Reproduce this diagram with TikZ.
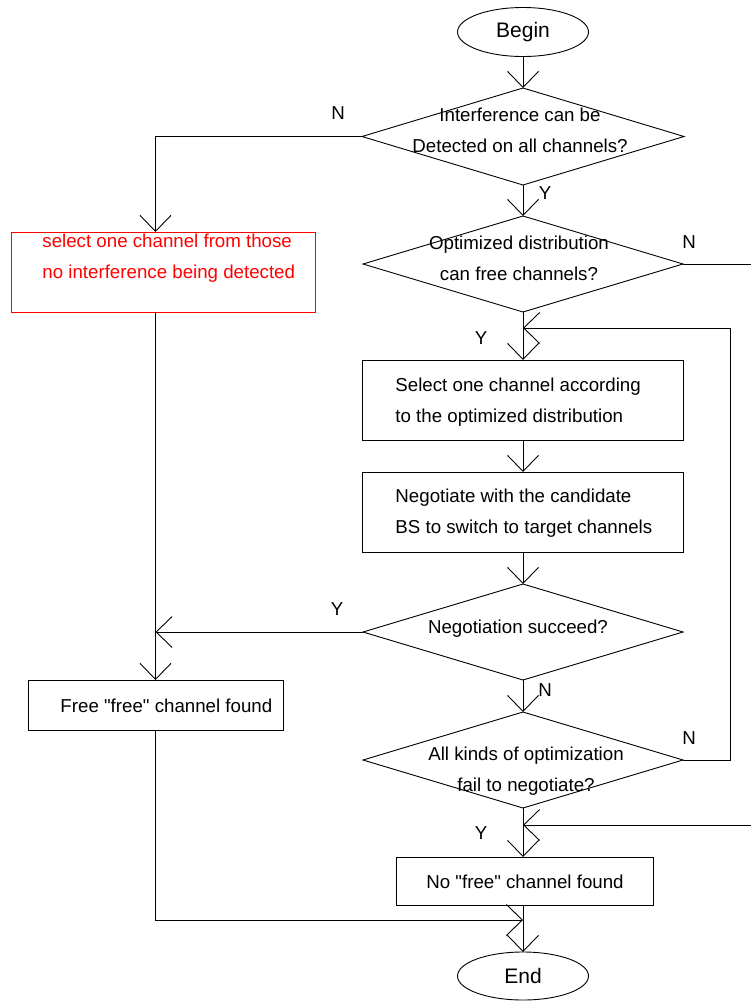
\documentclass[tikz,border=0pt]{standalone}
\usepackage{fontspec}
\setmainfont{Liberation Sans}[Ligatures=TeXOff]
\usetikzlibrary{shapes.geometric,arrows.meta}
\begin{document}
\begin{tikzpicture}[x=1bp,y=-1bp,line width=0.9bp,
  arr/.style={-{Straight Barb[length=16bp,width=31bp]}},
  txt/.style={font=\fontsize{18.7bp}{31bp}\selectfont,inner sep=0pt},
  lbl/.style={font=\fontsize{18.7bp}{22bp}\selectfont,inner sep=0pt},
  decision/.style={diamond,draw,inner sep=0pt,outer sep=0pt,minimum width=320bp,minimum height=96bp},
  proc/.style={rectangle,draw,inner sep=0pt,outer sep=0pt},
  term/.style={ellipse,draw,inner sep=0pt,outer sep=0pt,minimum width=131bp,minimum height=49bp,font=\fontsize{21bp}{25bp}\selectfont}
]
\useasboundingbox (0,0) rectangle (751,1001);
% nodes
\node[term] (begin) at (523,32) {Begin};
\node[decision,minimum width=322bp,minimum height=97bp] (d1) at (523,136.5) {};
\node[txt,align=center] (d1t) at (520,130) {Interference can be\\Detected on all channels?};
\node[decision] (d2) at (523,264) {};
\node[txt,align=center] (d2t) at (519,258) {Optimized distribution\\can free channels?};
\node[proc,draw=red,minimum width=304bp,minimum height=80bp] (sel) at (163,272) {};
\node[txt,align=left,anchor=west,text=red] (selt) at (42,258.5) {select one channel from those\\no interference being detected};
\node[proc,minimum width=321bp,minimum height=80bp] (b1) at (523,400) {};
\node[txt,align=left,anchor=west] (b1t) at (395,402) {Select one channel according\\to the optimized distribution};
\node[proc,minimum width=321bp,minimum height=80bp] (b2) at (523,512) {};
\node[txt,align=left,anchor=west] (b2t) at (395,513) {Negotiate with the candidate\\BS to switch to target channels};
\node[decision] (d3) at (523,632) {};
\node[txt] (d3t) at (518,629) {Negotiation succeed?};
\node[decision] (d4) at (523,760) {};
\node[txt,align=center] (d4t) at (526,771) {All kinds of optimization\\fail to negotiate?};
\node[proc,minimum width=255bp,minimum height=50bp] (free) at (155.5,705) {};
\node[txt,anchor=west] (freet) at (60,706) {Free "free" channel found};
\node[proc,minimum width=257bp,minimum height=48bp] (b3) at (524.5,881) {};
\node[txt] (b3t) at (525,882) {No "free" channel found};
\node[term,minimum height=48bp] (end) at (523,976) {End};
% labels
\node[lbl] (n1) at (338,113) {N};
\node[lbl] (y1) at (545,193) {Y};
\node[lbl] (n2) at (689,242) {N};
\node[lbl] (y2) at (481,338) {Y};
\node[lbl] (y3) at (337,609) {Y};
\node[lbl] (n3) at (545,690) {N};
\node[lbl] (n4) at (689,738) {N};
\node[lbl] (y4) at (481,833) {Y};
% helper coordinates
\coordinate (edge) at (751,0);
\coordinate (loopx) at (730,0);
\coordinate (m1) at (523,328);
\coordinate (m2) at (523,825);
\coordinate (m3) at (523,920);
% connectors
\draw[arr] (begin.south) -- (d1.north);
\draw[arr] (d1.west) -| (free.north |- sel.north);
\draw[arr] (free.north |- sel.south) -- (free.north);
\draw[arr] (d1.south) -- (d2.north);
\draw (d2.east) -- (edge |- d2.east);
\draw[arr] (d2.south) -- (b1.north);
\draw[arr] (d4.east) -| (loopx |- m1) -- (m1);
\draw[arr] (b1.south) -- (b2.north);
\draw[arr] (b2.south) -- (d3.north);
\draw[arr] (d3.west) -- (free.north |- d3.west);
\draw[arr] (d3.south) -- (d4.north);
\draw[arr] (d4.south) -- (d4.south |- b3.north);
\draw[arr] (edge |- m2) -- (m2);
\draw[arr] (free.south) |- (m3);
\draw[arr] (end.north |- b3.south) -- (end.north);
\end{tikzpicture}
\end{document}
